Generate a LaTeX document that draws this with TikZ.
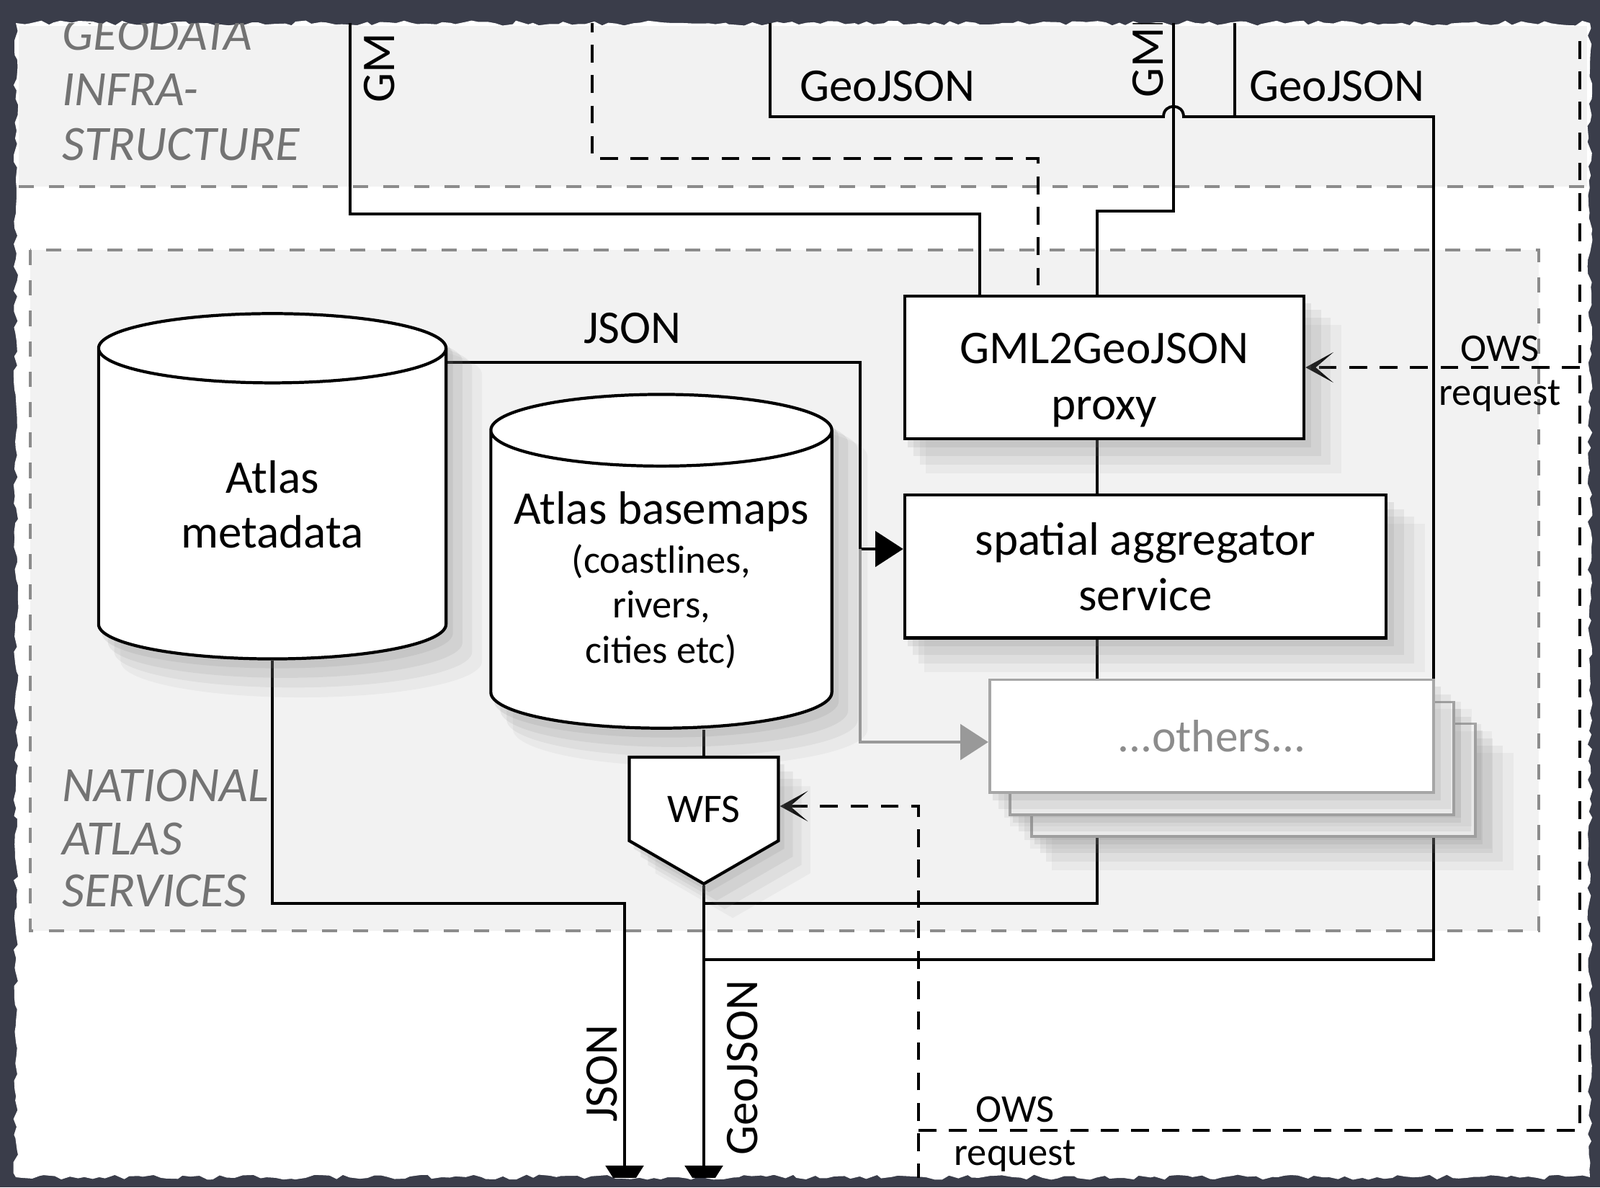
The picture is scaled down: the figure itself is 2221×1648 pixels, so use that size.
\documentclass[tikz,border=0pt]{standalone}
\usepackage{fontspec}
\setmainfont{Carlito}
\usetikzlibrary{positioning, arrows.meta, shapes.geometric, shapes.symbols, shadows, decorations.pathmorphing}

\definecolor{slate}{RGB}{58,61,74}
\definecolor{zonegrey}{RGB}{242,242,242}
\newcommand\dbsmall{\fontsize{15.5}{17.7}\selectfont}

\pgfdeclarelayer{paper}
\pgfdeclarelayer{wires}
\pgfsetlayers{paper,wires,main}

\tikzset{
  soft/.style={drop shadow={opacity=0.14, shadow xshift=2pt, shadow yshift=-3pt, shadow scale=1.01},
    drop shadow={opacity=0.12, shadow xshift=5pt, shadow yshift=-6pt, shadow scale=1.02},
    drop shadow={opacity=0.10, shadow xshift=8pt, shadow yshift=-9pt, shadow scale=1.03},
    drop shadow={opacity=0.07, shadow xshift=11pt, shadow yshift=-12pt, shadow scale=1.04}},
  svc/.style={draw, line width=1.2pt, fill=white, soft, align=center, inner sep=0pt,
    font=\fontsize{18.5}{22}\selectfont},
  other/.style={draw=black!35, line width=1.1pt, fill=white, soft,
    minimum width=6.16cm, minimum height=1.56cm},
  store/.style={cylinder, shape border rotate=90, draw, line width=1.2pt, fill=white,
    soft, align=center, inner sep=0pt, font=\fontsize{18.5}{21.5}\selectfont},
  wfsbox/.style={signal, signal to=south, signal from=nowhere, signal pointer angle=120,
    draw, line width=1.2pt, fill=white, soft, inner sep=0pt,
    minimum width=2.07cm, minimum height=1.45cm, font=\fontsize{16}{18}\selectfont},
  wire/.style={line width=1.1pt},
  owsreq/.style={line width=1.2pt, dash pattern=on 7pt off 5pt},
  zone/.style={draw=black!45, line width=0.9pt, dash pattern=on 6pt off 6pt},
  zonelabel/.style={anchor=base west, text=black!55,
    font=\fontsize{19.5}{21}\selectfont\itshape},
  lbl/.style={font=\fontsize{18.5}{22}\selectfont},
  small/.style={font=\fontsize{15.5}{18}\selectfont},
}

\begin{document}
\begin{tikzpicture}[x=0.01cm, y=-0.01cm]
\useasboundingbox (0,0) rectangle (2221,1648);

% sheet of paper and the two zones
\begin{pgfonlayer}{paper}
  \fill[slate] (0,0) rectangle (2221,1648);
  \fill[white, decorate, decoration={random steps, segment length=3pt, amplitude=1pt}]
    (22,32) rectangle (2207,1634);
  \fill[zonegrey] (26,36) rectangle (2203,259);
  \draw[zone] (26,259) -- (2203,259);
  \draw[zone, fill=zonegrey] (42,347) rectangle (2136,1292);
\end{pgfonlayer}

% services
\node[svc, minimum width=5.54cm, minimum height=1.98cm] (proxy) at (1533,510) {\rule{0pt}{22pt}GML2GeoJSON\\proxy};
\node[svc, minimum width=6.68cm, minimum height=1.98cm, below=0.74cm of proxy.south west, anchor=north west] (aggr) {spatial aggregator\\service};
\node[other, below right=1.15cm and 1.76cm of aggr.south west, anchor=north west] (oth3) {};
\node[other] (oth2) at ([shift={(-30,-30)}]oth3.center) {};
\node[other, text=black!45, font=\fontsize{18}{20}\selectfont] (oth1) at ([shift={(-28,-31)}]oth2.center) {...others...};

% data stores
\node[store, minimum width=4.82cm, minimum height=4.79cm, aspect=0.38] (meta) at (378,700) {Atlas\\metadata};
\node[store, minimum width=4.73cm, minimum height=4.63cm, aspect=0.4] (base) at (918,805)
  {\makebox[0pt]{Atlas basemaps}\\[-2.2pt] \dbsmall(coastlines,\\[-3.8pt] \dbsmall rivers,\\[-3.8pt] \dbsmall cities etc)};
\node[wfsbox] (wfs) at (977,1109) {\rule{0pt}{18.3pt}WFS};

\begin{pgfonlayer}{wires}
\begin{scope}
  \clip (22,32) rectangle (2207,1634);
  % from the geodata infrastructure
  \draw[wire] (486,20) |- (1360,297) -- (1360,297 |- proxy.north);
  \draw[wire] (1629,20) |- (1523,293) -- (1523,293 |- proxy.north);
  \draw[wire] (1069,20) |- (1615,162) .. controls (1615,143) and (1643,143) .. (1643,162)
    -- (1990,162) |- (wfs.south |- 0,1332);
  \draw[wire] (1714,20) -- (1714,162);
  % chain of services
  \draw[wire] (proxy.south -| 1523,0) -- (aggr.north -| 1523,0);
  \draw[wire] (aggr.south -| 1523,0) -- (1523,1254) -- (wfs.south |- 0,1254);
  \draw[wire, -{Triangle[length=11pt,width=14pt]}] (meta.east |- 0,503) -| (1194,762) -- (1194,762 -| aggr.west);
  \draw[wire, black!40, -{Triangle[length=11pt,width=14pt]}] (1194,762) |- (1194,1030 -| oth1.west);
  % outputs
  \draw[wire, -{Triangle[length=12pt,width=15pt]}] (meta.south) |- (867,1254) -- (867,1660);
  \draw[wire] (wfs.north |- base.south) -- (wfs.north);
  \draw[wire, -{Triangle[length=12pt,width=15pt]}] (wfs.south) -- (wfs.south |- 0,1660);
  % OWS requests
  \draw[owsreq, -{Stealth[length=11pt,width=12pt,inset=7pt]}] (1275,1640) -- (1275,1119) -- (1275,1119 -| wfs.east);
  \draw[owsreq] (1275,1569) -| (2193,44);
  \draw[owsreq, -{Stealth[length=11pt,width=12pt,inset=7pt]}] (2193,0 |- proxy.east) -- (proxy.east);
  \draw[owsreq] (822,20) |- (1441,220) -- (1441,220 |- proxy.north);
\end{scope}
\end{pgfonlayer}

% labels
\begin{scope}
  \clip (22,32) rectangle (2207,1634);
  \foreach \txt/\yy in {GEODATA/69, INFRA-/146, STRUCTURE/222, NATIONAL/1112, ATLAS/1186, SERVICES/1258}
    \node[zonelabel] at (74,\yy) {\txt};
  \node[lbl] at (878,456) {JSON};
  \node[lbl] at (1232,120) {GeoJSON};
  \node[lbl] at (1856,120) {GeoJSON};
  \node[lbl, rotate=90] at (527,94) {GM};
  \node[lbl, rotate=90] at (1594,73) {GML};
  \node[small] at (2082,484) {OWS};
  \node[small] at (2082,550) {request};
  \node[small] at (1409,1540) {OWS};
  \node[small] at (1409,1605) {request};
  \node[lbl, rotate=90] at (836,1490) {JSON};
  \node[lbl, rotate=90] at (1031,1482) {GeoJSON};
\end{scope}
\end{tikzpicture}
\end{document}
